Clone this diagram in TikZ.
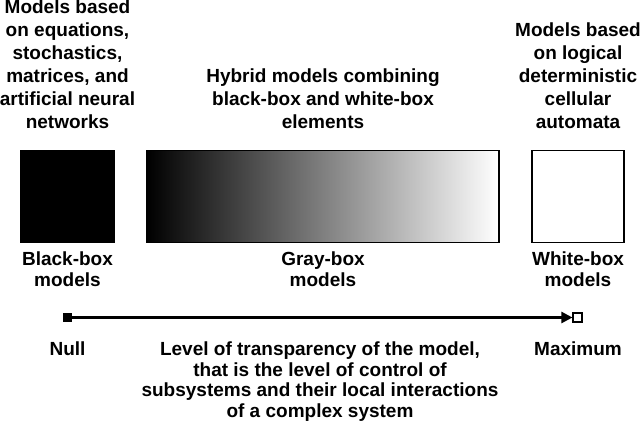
\documentclass[tikz,border=0pt]{standalone}
\usepackage{fontspec}
\setmainfont{Liberation Sans}
\usetikzlibrary{arrows.meta}

\begin{document}
\begin{tikzpicture}[x=1pt,y=-1pt,
  toplbl/.style={align=center,inner sep=0pt,anchor=south,font=\bfseries\fontsize{19}{22.9}\selectfont},
  boxlbl/.style={align=center,inner sep=0pt,anchor=south,font=\bfseries\fontsize{19}{20.7}\selectfont},
  modelbox/.style={draw=black,line width=1.5pt,inner sep=0pt,minimum height=92pt}]
\useasboundingbox (0,0) rectangle (640,428);
% the three kinds of model
\node[modelbox,fill=black,minimum width=93pt] (blackbox) at (67.5,196.5) {};
\node[modelbox,left color=black,right color=white,minimum width=352pt] (graybox) at (323,196.5) {};
\node[modelbox,fill=white,minimum width=92pt] (whitebox) at (578,196.5) {};
% texts above the boxes
\node[toplbl] (blackdesc) at (67.5,128.5) {Models based\\on equations,\\stochastics,\\matrices, and\\artificial neural\\networks};
\node[toplbl] (graydesc) at (323,128.5) {Hybrid models combining\\black-box and white-box\\elements};
\node[toplbl] (whitedesc) at (578,128.5) {Models based\\on logical\\deterministic\\cellular\\automata};
% names below the boxes
\node[boxlbl] (blackname) at (67.5,287) {Black-box\\models};
\node[boxlbl] (grayname) at (323,287) {Gray-box\\models};
\node[boxlbl] (whitename) at (578,287) {White-box\\models};
% transparency axis
\node[fill=black,inner sep=0pt,minimum size=9.5pt] (nullend) at (67.5,317.5) {};
\node[draw=black,fill=white,line width=1.6pt,inner sep=0pt,minimum size=8.5pt] (maxend) at (577.5,317.5) {};
\draw[line width=2.3pt,-{Triangle[length=11pt,width=11pt]}] (nullend) -- (maxend);
\node[inner sep=0pt,anchor=base,font=\bfseries\fontsize{19}{20.7}\selectfont] (nulltxt) at (67.5,355) {Null};
\node[inner sep=0pt,anchor=base,font=\bfseries\fontsize{19}{20.7}\selectfont] (maxtxt) at (578,355) {Maximum};
\node[align=center,inner sep=0pt,anchor=north,font=\bfseries\fontsize{19}{20.7}\selectfont] (axisdesc) at (320,341.4) {Level of transparency of the model,\\that is the level of control of\\subsystems and their local interactions\\of a complex system};
\end{tikzpicture}
\end{document}
